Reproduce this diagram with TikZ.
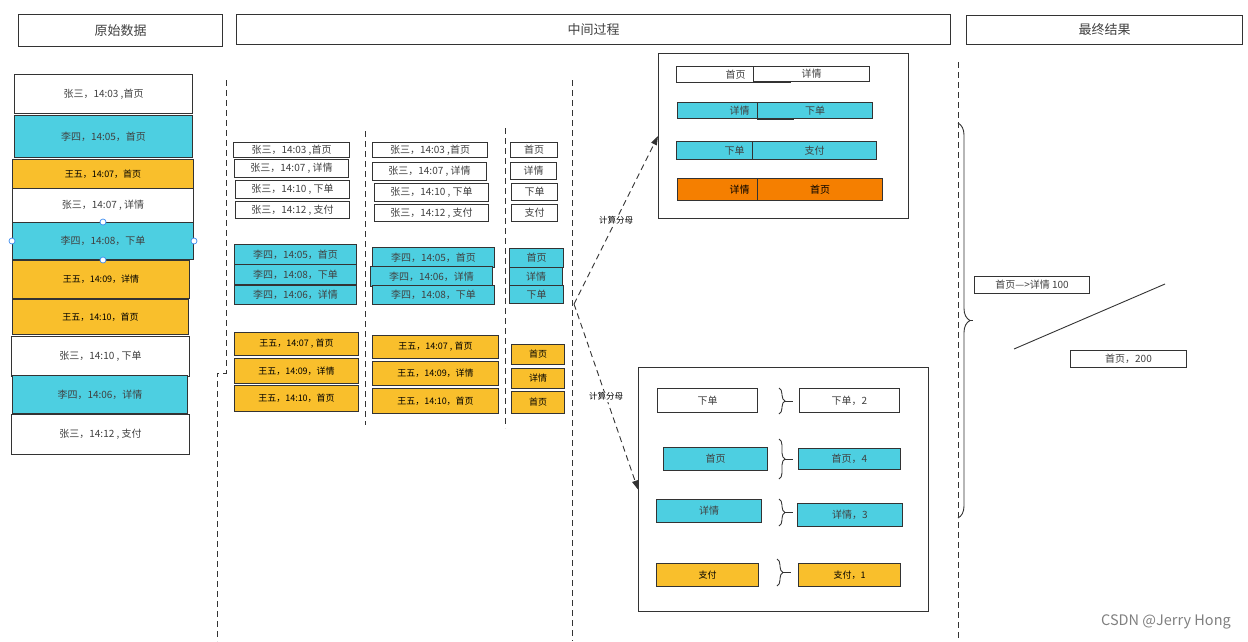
\documentclass[tikz,border=0pt]{standalone}
\usepackage{fontspec}
\setmainfont{Noto Sans CJK SC}
\usetikzlibrary{arrows.meta,decorations.pathreplacing}
\definecolor{cyanbox}{HTML}{4DCFE1}
\definecolor{yellowbox}{HTML}{F9BF2C}
\definecolor{orangebox}{HTML}{F57F00}
\definecolor{linegray}{HTML}{333333}
\definecolor{handle}{HTML}{3D8DF0}

\begin{document}
\begin{tikzpicture}[
  x=1pt, y=-1pt,
  font=\fontsize{10}{12}\selectfont,
  sz/.style 2 args={minimum width=#1pt, minimum height=#2pt},
  rec/.style={draw=linegray, line width=1pt, anchor=north west, inner sep=0pt, text=black!75},
  header/.style={rec, font=\fontsize{13}{15}\selectfont},
  wbox/.style={rec, fill=white},
  cbox/.style={rec, fill=cyanbox},
  ybox/.style={rec, fill=yellowbox, text=black},
  obox/.style={rec, fill=orangebox, text=black},
  rcell/.style={text width=#1pt, align=right, inner xsep=8pt},
  small/.style={font=\fontsize{9}{11}\selectfont},
  frame/.style={draw=linegray, line width=1pt, anchor=north west, inner sep=0pt},
  sep/.style={draw=linegray, line width=0.9pt, dash pattern=on 6pt off 4pt},
  flow/.style={draw=linegray, line width=0.9pt, dash pattern=on 6pt off 4pt, -{Triangle[length=9pt,width=6pt]}},
  tag/.style={fill=white, inner sep=1pt, text=black, font=\fontsize{8.5}{10}\selectfont},
  brc/.style={draw=linegray, line width=0.9pt, decorate, decoration={brace, amplitude=#1}},
  dot/.style={circle, draw=handle, fill=white, line width=0.7pt, inner sep=0pt, minimum size=6pt}
]
\useasboundingbox (0,0) rectangle (1248,641);

% Headers
\node[header, sz={204}{32}] (hraw) at (18,14) {原始数据};
\node[header, sz={714}{30}] (hmid) at (236,14) {中间过程};
\node[header, sz={276}{29}] (hres) at (966,15) {最终结果};

% Raw data
\node[wbox, sz={178}{39}] (l1) at (14,74) {张三，14:03 ,首页};
\node[cbox, sz={178}{42}] (l2) at (14,115) {李四，14:05，首页};
\node[ybox, small, sz={181}{29}] (l3) at (12,159) {王五，14:07，首页};
\node[wbox, sz={181}{34}] (l4) at (12,188) {张三，14:07 , 详情};
\node[cbox, sz={181}{37}] (l5) at (12,222) {李四，14:08，下单};
\node[ybox, small, sz={177}{38}] (l6) at (12,260) {王五，14:09，详情};
\node[ybox, small, sz={176}{35}] (l7) at (12,299) {王五，14:10，首页};
\node[wbox, sz={178}{40}] (l8) at (11,336) {张三，14:10 , 下单};
\node[cbox, sz={175}{38}] (l9) at (12,375) {李四，14:06，详情};
\node[wbox, sz={178}{40}] (l10) at (11,414) {张三，14:12 , 支付};
\node[dot] (hn) at (l5.north) {};
\node[dot] (hs) at (l5.south) {};
\node[dot] (hw) at (l5.west) {};
\node[dot] (he) at (l5.east) {};

% Column separators
\draw[sep] (226,80) -- (226,373) -- (217,373) -- (217,641);
\draw[sep] (365,131) -- (365,425);
\draw[sep] (505,128) -- (505,428);
\draw[sep] (572,80) -- (572,641);
\draw[sep] (958,62) -- (958,641);

% Grouped by user
\node[wbox, sz={116}{15}] (a1) at (233,142) {张三，14:03 ,首页};
\node[wbox, sz={114}{18}] (a2) at (234,159) {张三，14:07 , 详情};
\node[wbox, sz={114}{18}] (a3) at (235,180) {张三，14:10 , 下单};
\node[wbox, sz={114}{17}] (a4) at (235,201) {张三，14:12 , 支付};
\node[cbox, sz={122}{20}] (a5) at (234,244) {李四，14:05，首页};
\node[cbox, sz={122}{20}] (a6) at (234,264) {李四，14:08，下单};
\node[cbox, sz={122}{19}] (a7) at (234,285) {李四，14:06，详情};
\node[ybox, small, sz={124}{23}] (a8) at (234,332) {王五，14:07 , 首页};
\node[ybox, small, sz={124}{25}] (a9) at (234,358) {王五，14:09，详情};
\node[ybox, small, sz={124}{26}] (a10) at (234,385) {王五，14:10，首页};

% Sorted by time
\node[wbox, sz={115}{15}] (b1) at (372,142) {张三，14:03 ,首页};
\node[wbox, sz={114}{18}] (b2) at (372,162) {张三，14:07 , 详情};
\node[wbox, sz={114}{18}] (b3) at (374,183) {张三，14:10 , 下单};
\node[wbox, sz={114}{17}] (b4) at (374,204) {张三，14:12 , 支付};
\node[cbox, sz={122}{20}] (b5) at (372,247) {李四，14:05，首页};
\node[cbox, sz={122}{20}] (b6) at (370,266) {李四，14:06，详情};
\node[cbox, sz={122}{19}] (b7) at (372,285) {李四，14:08，下单};
\node[ybox, small, sz={126}{23}] (b8) at (372,335) {王五，14:07 , 首页};
\node[ybox, small, sz={126}{24}] (b9) at (372,361) {王五，14:09，详情};
\node[ybox, small, sz={126}{25}] (b10) at (372,388) {王五，14:10，首页};

% Pages only
\node[wbox, sz={47}{15}] (c1) at (510,142) {首页};
\node[wbox, sz={46}{17}] (c2) at (510,162) {详情};
\node[wbox, sz={46}{17}] (c3) at (511,183) {下单};
\node[wbox, sz={46}{17}] (c4) at (511,204) {支付};
\node[cbox, sz={54}{19}] (c5) at (509,248) {首页};
\node[cbox, sz={53}{18}] (c6) at (509,267) {详情};
\node[cbox, sz={54}{18}] (c7) at (509,285) {下单};
\node[ybox, small, sz={53}{20}] (c8) at (511,344) {首页};
\node[ybox, small, sz={53}{20}] (c9) at (511,368) {详情};
\node[ybox, small, sz={53}{22}] (c10) at (511,391) {首页};

% Page pairs
\node[frame, sz={250}{165}] (pairs) at (658,53) {};
\node[wbox, rcell=61, sz={77}{16}] (p1a) at (676,66) {首页};
\node[wbox, sz={116}{15}] (p1b) at (753,66) {详情};
\node[cbox, rcell=64, sz={80}{16}] (p2a) at (677,102) {详情};
\node[cbox, sz={115}{16}] (p2b) at (757,102) {下单};
\node[cbox, rcell=60, sz={76}{18}] (p3a) at (676,141) {下单};
\node[cbox, sz={124}{18}] (p3b) at (752,141) {支付};
\node[obox, rcell=64, sz={80}{22}] (p4a) at (677,178) {详情};
\node[obox, sz={125}{22}] (p4b) at (757,178) {首页};
\draw[linegray, line width=1.2pt] (p1b.south west) -- ++(38,0);
\draw[linegray, line width=1.2pt] (p2b.south west) -- ++(37,0);

% Page counts
\node[frame, sz={290}{244}] (counts) at (638,367) {};
\node[wbox, sz={100}{24}] (q1) at (657,388) {下单};
\node[wbox, sz={100}{24}] (r1) at (799,388) {下单，2};
\node[cbox, sz={104}{23}] (q2) at (663,447) {首页};
\node[cbox, sz={102}{21}] (r2) at (798,448) {首页，4};
\node[cbox, sz={105}{23}] (q3) at (656,499) {详情};
\node[cbox, sz={105}{23}] (r3) at (797,503) {详情，3};
\node[ybox, small, sz={102}{23}] (q4) at (656,563) {支付};
\node[ybox, small, sz={102}{23}] (r4) at (798,563) {支付，1};
\draw[brc=6pt] (779,388) -- (779,414);
\draw[linegray, line width=0.9pt] (785,401) -- (793,401);
\draw[brc=6pt] (779,439) -- (779,479);
\draw[linegray, line width=0.9pt] (785,459) -- (793,459);
\draw[brc=6pt] (779,499) -- (779,526);
\draw[linegray, line width=0.9pt] (785,512.5) -- (793,512.5);
\draw[brc=6pt] (777,559) -- (777,586);
\draw[linegray, line width=0.9pt] (783,572.5) -- (791,572.5);

% Split into the two boxes
\coordinate (split) at (574,304);
\draw[flow] (split) -- node[tag] {计算分母} (pairs.west);
\draw[flow] (split) -- node[tag] {计算分母} (counts.west);

% Result
\draw[brc=12pt] (958,123) -- (958,518);
\draw[linegray, line width=0.9pt] (970,320.5) -- (973,320.5);
\node[wbox, sz={115}{17}] (f1) at (974,276) {首页—>详情 100};
\node[wbox, sz={116}{17}] (f2) at (1070,350) {首页，200};
\coordinate (ln1) at (1014,349);
\coordinate (ln2) at (1165,284);
\draw[linegray, line width=0.9pt] (ln1) -- (ln2);

\node[text=black!50, font=\fontsize{14.5}{16}\selectfont] (mark) at (1166,622) {CSDN @Jerry Hong};
\end{tikzpicture}
\end{document}
